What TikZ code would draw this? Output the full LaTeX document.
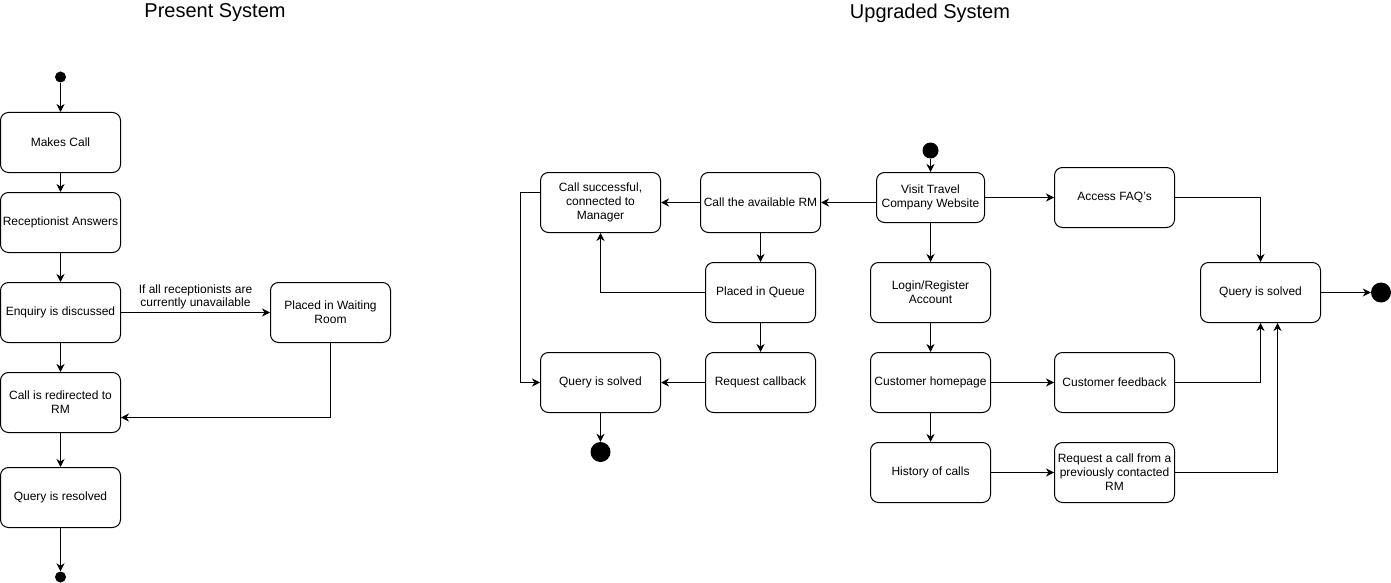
\documentclass[tikz,border=0pt]{standalone}
\usepackage{fontspec}
\setmainfont{Liberation Sans}
\usetikzlibrary{arrows.meta}

\begin{document}
\begin{tikzpicture}[x=1pt,y=-1pt,
        actbox/.style={draw, line width=1pt, rounded corners=8pt, minimum width=120pt, minimum height=60pt,
            inner sep=0pt, align=center, font=\fontsize{12}{14}\selectfont},
        dot/.style={circle, fill=black, inner sep=0pt},
        flow/.style={line width=1pt, -{Stealth[length=8pt,width=8pt,inset=2.5pt]}},
        title/.style={font=\fontsize{20}{24}\selectfont}]
        \useasboundingbox (0,0) rectangle (1391,583);

        % Present system
        \node[title] (ptitle) at (215,13) {Present System};
        \node[dot, minimum size=11pt] (pstart) at (60.5,77) {};
        \node[actbox] (makes) at (60.5,142.5) {Makes Call};
        \node[actbox] (recep) at (60.5,222.5) {Receptionist Answers};
        \node[actbox] (enquiry) at (60.5,312.5) {Enquiry is discussed};
        \node[actbox] (redirect) at (60.5,402.5) {Call is redirected to\\RM};
        \node[actbox] (resolved) at (60.5,497.5) {Query is resolved};
        \node[dot, minimum size=11pt] (pend) at (60.5,577) {};
        \node[actbox] (waiting) at (330.5,312.5) {Placed in Waiting\\Room};

        \draw[flow] (pstart) -- (makes);
        \draw[flow] (makes) -- (recep);
        \draw[flow] (recep) -- (enquiry);
        \draw[flow] (enquiry) -- node[midway, above, inner sep=3pt, align=center, font=\fontsize{12}{13}\selectfont] (unavail)
            {If all receptionists are\\currently unavailable} (waiting);
        \draw[flow] (enquiry) -- (redirect);
        \draw[flow] (redirect) -- (resolved);
        \draw[flow] (resolved) -- (pend);
        \draw[flow] (waiting.south) |- ([yshift=-15pt]redirect.east);

        % Upgraded system
        \node[title] (utitle) at (930,13) {Upgraded System};
        \node[dot, minimum size=16pt] (ustart) at (930.5,150.5) {};
        \node[actbox, minimum width=108pt, minimum height=50pt] (visit) at (930.5,197.5) {Visit Travel\\Company Website};
        \node[actbox] (callrm) at (760.5,202.5) {Call the available RM};
        \node[actbox] (success) at (600.5,202.5) {Call successful,\\connected to\\Manager};
        \node[actbox, minimum width=110pt] (queue) at (760.5,292.5) {Placed in Queue};
        \node[actbox, minimum width=110pt] (callback) at (760.5,382.5) {Request callback};
        \node[actbox] (solvedA) at (600.5,382.5) {Query is solved};
        \node[dot, minimum size=20pt] (endA) at (600.5,452) {};
        \node[actbox] (faq) at (1114.5,197.5) {Access FAQ's};
        \node[actbox] (login) at (930.5,292.5) {Login/Register\\Account};
        \node[actbox] (home) at (930.5,382.5) {Customer homepage};
        \node[actbox] (history) at (930.5,472.5) {History of calls};
        \node[actbox] (feedback) at (1114.5,382.5) {Customer feedback};
        \node[actbox] (reqrm) at (1114.5,472.5) {Request a call from a\\previously contacted\\RM};
        \node[actbox] (solvedB) at (1260.5,292.5) {Query is solved};
        \node[dot, minimum size=20pt] (endB) at (1381,292.5) {};

        \draw[flow] (ustart) -- (visit);
        \draw[flow] ([yshift=-5pt]visit.west) -- (callrm.east);
        \draw[flow] (visit) -- (faq);
        \draw[flow] (visit) -- (login);
        \draw[flow] (callrm) -- (success);
        \draw[flow] (callrm) -- (queue);
        \draw[flow] (queue.west) -| (success.south);
        \draw[flow] (queue) -- (callback);
        \draw[flow] (callback) -- (solvedA);
        \draw[flow] ([yshift=10pt]success.west) -- ++(-20,0) |- (solvedA.west);
        \draw[flow] (solvedA) -- (endA);
        \draw[flow] (login) -- (home);
        \draw[flow] (home) -- (history);
        \draw[flow] (home) -- (feedback);
        \draw[flow] (history) -- (reqrm);
        \draw[flow] (faq.east) -| (solvedB.north);
        \draw[flow] (feedback.east) -| (solvedB.south);
        \draw[flow] (reqrm.east) -| ([xshift=17pt]solvedB.south);
        \draw[flow] (solvedB.east) -- (endB.west);
    \end{tikzpicture}
\end{document}
